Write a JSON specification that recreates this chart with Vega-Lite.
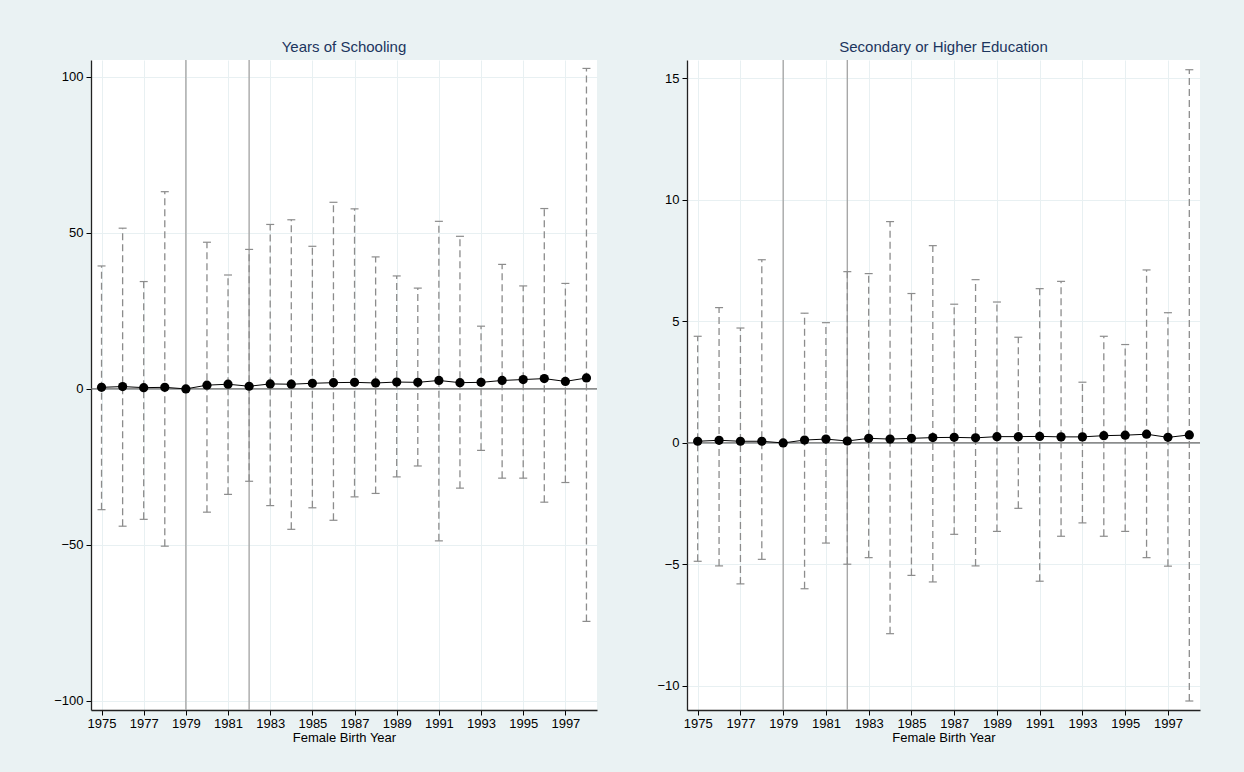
{
  "$schema": "https://vega.github.io/schema/vega-lite/v6.json",
  "background": "#EAF2F3",
  "padding": {"left": 53, "top": 40, "right": 47, "bottom": 30},
  "config": {
    "view": {"fill": "white", "stroke": null},
    "font": "Liberation Sans",
    "axis": {
      "labelFont": "Liberation Sans", "labelFontSize": 13, "labelColor": "#000000",
      "tickColor": "#000000", "tickSize": 5, "tickWidth": 1,
      "domainColor": "#222222", "domainWidth": 1.3,
      "gridColor": "#E8F0F2", "gridWidth": 1,
      "titleFont": "Liberation Sans", "titleFontSize": 13, "titleFontWeight": "normal", "titleColor": "#000000"
    },
    "title": {"font": "Liberation Sans", "fontSize": 15, "fontWeight": "normal", "color": "#1C355E", "anchor": "middle", "offset": 4},
    "concat": {"spacing": 58}
  },
  "datasets": {
    "school": [
      {"year": 1975, "est": 0.5, "lo": -38.7, "hi": 39.4},
      {"year": 1976, "est": 0.75, "lo": -44.0, "hi": 51.5},
      {"year": 1977, "est": 0.4, "lo": -41.8, "hi": 34.4},
      {"year": 1978, "est": 0.5, "lo": -50.4, "hi": 63.2},
      {"year": 1979, "est": 0, "lo": null, "hi": null},
      {"year": 1980, "est": 1.2, "lo": -39.5, "hi": 47.0},
      {"year": 1981, "est": 1.5, "lo": -33.8, "hi": 36.5},
      {"year": 1982, "est": 0.85, "lo": -29.6, "hi": 44.7},
      {"year": 1983, "est": 1.6, "lo": -37.4, "hi": 52.7},
      {"year": 1984, "est": 1.5, "lo": -45.0, "hi": 54.2},
      {"year": 1985, "est": 1.8, "lo": -38.1, "hi": 45.7},
      {"year": 1986, "est": 2.0, "lo": -42.1, "hi": 59.8},
      {"year": 1987, "est": 2.1, "lo": -34.6, "hi": 57.7},
      {"year": 1988, "est": 1.9, "lo": -33.5, "hi": 42.3},
      {"year": 1989, "est": 2.2, "lo": -28.2, "hi": 36.2},
      {"year": 1990, "est": 2.1, "lo": -24.7, "hi": 32.3},
      {"year": 1991, "est": 2.7, "lo": -48.7, "hi": 53.7},
      {"year": 1992, "est": 2.0, "lo": -31.8, "hi": 48.9},
      {"year": 1993, "est": 2.1, "lo": -19.7, "hi": 20.1},
      {"year": 1994, "est": 2.7, "lo": -28.6, "hi": 39.9},
      {"year": 1995, "est": 3.0, "lo": -28.6, "hi": 33.0},
      {"year": 1996, "est": 3.3, "lo": -36.3, "hi": 57.8},
      {"year": 1997, "est": 2.4, "lo": -30.0, "hi": 33.8},
      {"year": 1998, "est": 3.5, "lo": -74.5, "hi": 102.7}
    ],
    "secondary": [
      {"year": 1975, "est": 0.07, "lo": -4.87, "hi": 4.39},
      {"year": 1976, "est": 0.11, "lo": -5.06, "hi": 5.57},
      {"year": 1977, "est": 0.07, "lo": -5.80, "hi": 4.73},
      {"year": 1978, "est": 0.07, "lo": -4.79, "hi": 7.54},
      {"year": 1979, "est": 0, "lo": null, "hi": null},
      {"year": 1980, "est": 0.12, "lo": -6.00, "hi": 5.34},
      {"year": 1981, "est": 0.16, "lo": -4.12, "hi": 4.95},
      {"year": 1982, "est": 0.08, "lo": -4.99, "hi": 7.05},
      {"year": 1983, "est": 0.19, "lo": -4.72, "hi": 6.97},
      {"year": 1984, "est": 0.16, "lo": -7.85, "hi": 9.11},
      {"year": 1985, "est": 0.19, "lo": -5.45, "hi": 6.15},
      {"year": 1986, "est": 0.22, "lo": -5.72, "hi": 8.12},
      {"year": 1987, "est": 0.23, "lo": -3.76, "hi": 5.71},
      {"year": 1988, "est": 0.21, "lo": -5.06, "hi": 6.72},
      {"year": 1989, "est": 0.26, "lo": -3.64, "hi": 5.80},
      {"year": 1990, "est": 0.26, "lo": -2.69, "hi": 4.35},
      {"year": 1991, "est": 0.27, "lo": -5.69, "hi": 6.35},
      {"year": 1992, "est": 0.25, "lo": -3.84, "hi": 6.65},
      {"year": 1993, "est": 0.25, "lo": -3.29, "hi": 2.50},
      {"year": 1994, "est": 0.30, "lo": -3.84, "hi": 4.39},
      {"year": 1995, "est": 0.32, "lo": -3.64, "hi": 4.05},
      {"year": 1996, "est": 0.36, "lo": -4.72, "hi": 7.12},
      {"year": 1997, "est": 0.23, "lo": -5.07, "hi": 5.36},
      {"year": 1998, "est": 0.33, "lo": -10.62, "hi": 15.36}
    ]
  },
  "hconcat": [
    {
      "title": "Years of Schooling",
      "width": 506,
      "height": 650,
      "data": {"name": "school"},
      "layer": [
        {
          "mark": {"type": "rule", "color": "#A8A8A8", "strokeWidth": 1.4},
          "data": {"values": [{"ref": 1979}, {"ref": 1982}]},
          "encoding": {
            "x": {"field": "ref", "type": "quantitative", "title": "Female Birth Year",
                  "scale": {"domain": [1974.5, 1998.5], "nice": false, "zero": false},
                  "axis": {"values": [1975,1977,1979,1981,1983,1985,1987,1989,1991,1993,1995,1997], "format": "d", "grid": true, "labelPadding": 2, "titlePadding": 1}}
          }
        },
        {
          "mark": {"type": "rule", "color": "#666666", "strokeWidth": 1.3},
          "data": {"values": [{"zero": 0}]},
          "encoding": {
            "y": {"field": "zero", "type": "quantitative", "title": null,
                  "scale": {"domain": [-102.9, 105.4], "nice": false, "zero": false},
                  "axis": {"values": [-100, -50, 0, 50, 100], "grid": true, "labelPadding": 3}}
          }
        },
        {
          "transform": [{"filter": "datum.lo != null"}],
          "mark": {"type": "rule", "color": "#8C8C8C", "strokeWidth": 1.3, "strokeDash": [7, 4]},
          "encoding": {
            "x": {"field": "year", "type": "quantitative", "title": "Female Birth Year"},
            "y": {"field": "lo", "type": "quantitative", "title": null},
            "y2": {"field": "hi"}
          }
        },
        {
          "transform": [{"filter": "datum.lo != null"}],
          "mark": {"type": "tick", "orient": "horizontal", "color": "#8C8C8C", "size": 8, "thickness": 1.2, "opacity": 1},
          "encoding": {
            "x": {"field": "year", "type": "quantitative", "title": "Female Birth Year"},
            "y": {"field": "lo", "type": "quantitative", "title": null}
          }
        },
        {
          "transform": [{"filter": "datum.hi != null"}],
          "mark": {"type": "tick", "orient": "horizontal", "color": "#8C8C8C", "size": 8, "thickness": 1.2, "opacity": 1},
          "encoding": {
            "x": {"field": "year", "type": "quantitative", "title": "Female Birth Year"},
            "y": {"field": "hi", "type": "quantitative", "title": null}
          }
        },
        {
          "mark": {"type": "line", "color": "#000000", "strokeWidth": 1},
          "encoding": {
            "x": {"field": "year", "type": "quantitative", "title": "Female Birth Year"},
            "y": {"field": "est", "type": "quantitative", "title": null}
          }
        },
        {
          "mark": {"type": "circle", "color": "#000000", "size": 85, "opacity": 1},
          "encoding": {
            "x": {"field": "year", "type": "quantitative", "title": "Female Birth Year"},
            "y": {"field": "est", "type": "quantitative", "title": null}
          }
        }
      ]
    },
    {
      "title": "Secondary or Higher Education",
      "width": 513,
      "height": 650,
      "data": {"name": "secondary"},
      "layer": [
        {
          "mark": {"type": "rule", "color": "#A8A8A8", "strokeWidth": 1.4},
          "data": {"values": [{"ref": 1979}, {"ref": 1982}]},
          "encoding": {
            "x": {"field": "ref", "type": "quantitative", "title": "Female Birth Year",
                  "scale": {"domain": [1974.5, 1998.5], "nice": false, "zero": false},
                  "axis": {"values": [1975,1977,1979,1981,1983,1985,1987,1989,1991,1993,1995,1997], "format": "d", "grid": true, "labelPadding": 2, "titlePadding": 1}}
          }
        },
        {
          "mark": {"type": "rule", "color": "#666666", "strokeWidth": 1.3},
          "data": {"values": [{"zero": 0}]},
          "encoding": {
            "y": {"field": "zero", "type": "quantitative", "title": null,
                  "scale": {"domain": [-10.99, 15.76], "nice": false, "zero": false},
                  "axis": {"values": [-10, -5, 0, 5, 10, 15], "grid": true, "labelPadding": 3}}
          }
        },
        {
          "transform": [{"filter": "datum.lo != null"}],
          "mark": {"type": "rule", "color": "#8C8C8C", "strokeWidth": 1.3, "strokeDash": [7, 4]},
          "encoding": {
            "x": {"field": "year", "type": "quantitative", "title": "Female Birth Year"},
            "y": {"field": "lo", "type": "quantitative", "title": null},
            "y2": {"field": "hi"}
          }
        },
        {
          "transform": [{"filter": "datum.lo != null"}],
          "mark": {"type": "tick", "orient": "horizontal", "color": "#8C8C8C", "size": 8, "thickness": 1.2, "opacity": 1},
          "encoding": {
            "x": {"field": "year", "type": "quantitative", "title": "Female Birth Year"},
            "y": {"field": "lo", "type": "quantitative", "title": null}
          }
        },
        {
          "transform": [{"filter": "datum.hi != null"}],
          "mark": {"type": "tick", "orient": "horizontal", "color": "#8C8C8C", "size": 8, "thickness": 1.2, "opacity": 1},
          "encoding": {
            "x": {"field": "year", "type": "quantitative", "title": "Female Birth Year"},
            "y": {"field": "hi", "type": "quantitative", "title": null}
          }
        },
        {
          "mark": {"type": "line", "color": "#000000", "strokeWidth": 1},
          "encoding": {
            "x": {"field": "year", "type": "quantitative", "title": "Female Birth Year"},
            "y": {"field": "est", "type": "quantitative", "title": null}
          }
        },
        {
          "mark": {"type": "circle", "color": "#000000", "size": 85, "opacity": 1},
          "encoding": {
            "x": {"field": "year", "type": "quantitative", "title": "Female Birth Year"},
            "y": {"field": "est", "type": "quantitative", "title": null}
          }
        }
      ]
    }
  ]
}
